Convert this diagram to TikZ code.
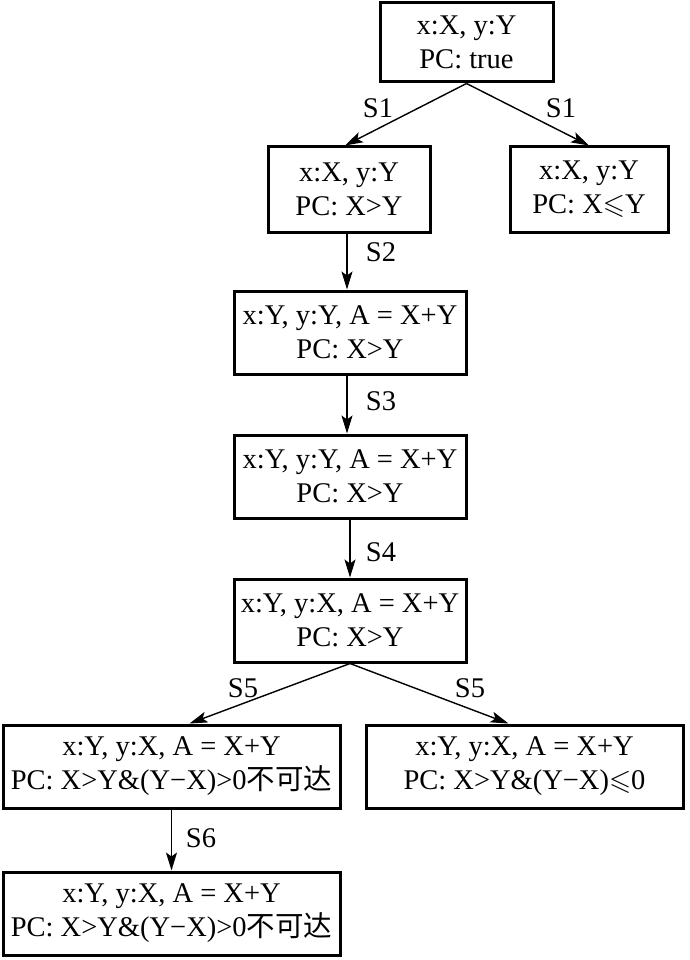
\documentclass[tikz,border=0pt]{standalone}
\usepackage{fontspec}
\usepackage{amssymb}
\setmainfont{Liberation Serif}
\newfontfamily\cjk{Noto Sans CJK SC}
\usetikzlibrary{arrows.meta}
\newcommand{\zhtxt}[1]{{\cjk #1}}
\begin{document}
\begin{tikzpicture}[x=1pt,y=-1pt,
  box/.style={draw, line width=3pt, rectangle, inner sep=0pt, align=center,
    font=\fontsize{28.5}{34}\selectfont},
  arr/.style={-{Stealth[length=18pt,width=11pt,inset=4pt]}, line width=1.4pt},
  lbl/.style={font=\fontsize{28.5}{34}\selectfont, inner sep=0pt}]
\useasboundingbox (0,0) rectangle (689,960);
\fill[white] (0,0) rectangle (689,960);
\node[box, minimum width=173pt, minimum height=79pt] (b1) at (466.5,42.5) {x:X, y:Y\\PC: true};
\node[box, minimum width=162pt, minimum height=85pt] (b2) at (349,189.5) {x:X, y:Y\\PC: X>Y};
\node[box, minimum width=158pt, minimum height=85pt] (b3) at (589,189.5) {x:X, y:Y\\PC: X$\leqslant$Y};
\node[box, minimum width=232pt, minimum height=83pt] (b4) at (350,332.5) {x:Y, y:Y, A = X+Y\\PC: X>Y};
\node[box, minimum width=232pt, minimum height=83pt] (b5) at (350,476.5) {x:Y, y:Y, A = X+Y\\PC: X>Y};
\node[box, minimum width=232pt, minimum height=83pt] (b6) at (350,620.5) {x:Y, y:X, A = X+Y\\PC: X>Y};
\node[box, minimum width=337pt, minimum height=83pt] (b7) at (171.5,766.5) {x:Y, y:X, A = X+Y\\PC: X>Y\&(Y−X)>0\zhtxt{不可达}};
\node[box, minimum width=317pt, minimum height=83pt] (b8) at (524.5,766.5) {x:Y, y:X, A = X+Y\\PC: X>Y\&(Y−X)$\leqslant$0};
\node[box, minimum width=337pt, minimum height=83pt] (b9) at (171.5,913.5) {x:Y, y:X, A = X+Y\\PC: X>Y\&(Y−X)>0\zhtxt{不可达}};
\draw[arr] (b1.south) -- ([xshift=-4pt]b2.north);
\draw[arr] (b1.south) -- (b3.north);
\draw[arr] ([xshift=-2pt]b2.south) -- ([xshift=-3pt]b4.north);
\draw[arr] ([xshift=-3pt]b4.south) -- ([xshift=-3pt]b5.north);
\draw[arr] (b5.south) -- (b6.north);
\draw[arr] (b6.south) -- ([xshift=18pt]b7.north);
\draw[arr] (b6.south) -- ([xshift=-16pt]b8.north);
\draw[arr] (b7.south) -- (b9.north);
\node[lbl] (l1) at (378,108) {S1};
\node[lbl] (l2) at (561,108) {S1};
\node[lbl] (l3) at (381,252) {S2};
\node[lbl] (l4) at (381,401) {S3};
\node[lbl] (l5) at (381,552) {S4};
\node[lbl] (l6) at (243,688) {S5};
\node[lbl] (l7) at (470,688) {S5};
\node[lbl] (l8) at (201,838) {S6};
\end{tikzpicture}
\end{document}
